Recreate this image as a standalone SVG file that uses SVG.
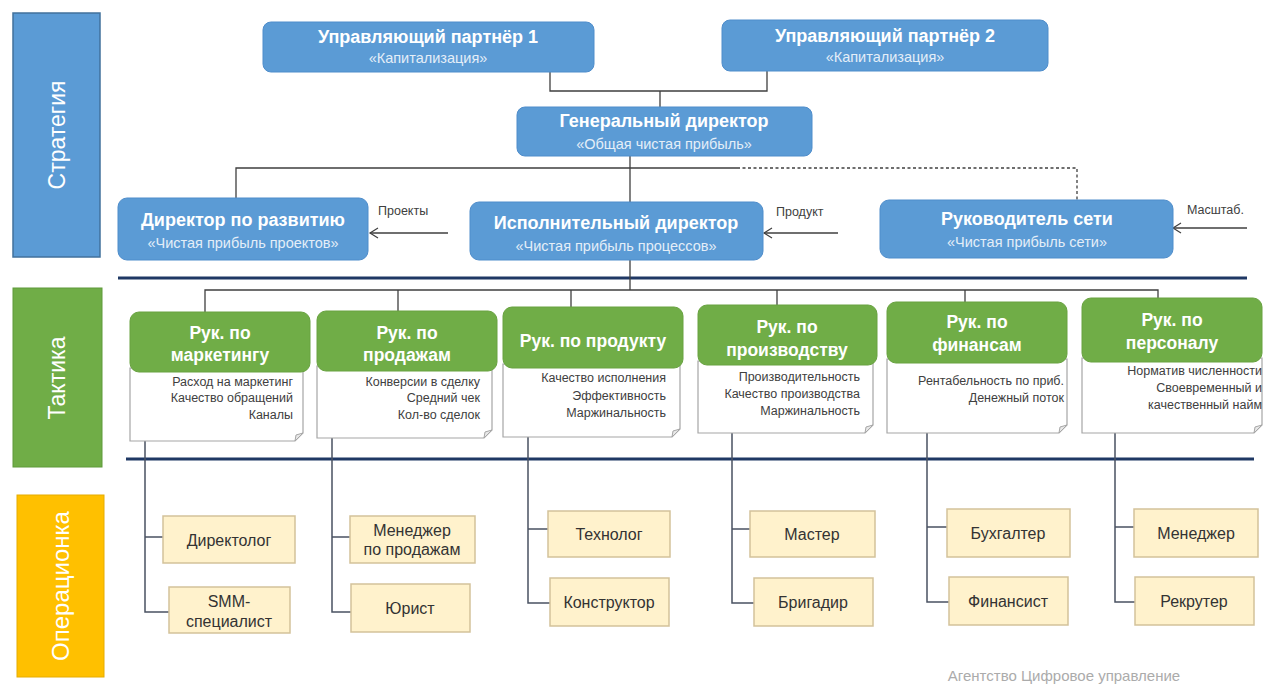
<svg xmlns="http://www.w3.org/2000/svg" width="1264" height="688" viewBox="0 0 1264 688">
<defs>
<style>
.blue{fill:#5B9BD5;stroke:#4F8DCB;stroke-width:1}
.green{fill:#70AD47;stroke:#68A240;stroke-width:1}
.note{fill:#FFFFFF;stroke:#A6A6A6;stroke-width:1.2}
.fold{fill:#E8E8E8;stroke:#A6A6A6;stroke-width:1}
.ops{fill:#FFF2CC;stroke:#D3C29A;stroke-width:1.5}
.t1{font-family:"Liberation Sans",Arial,sans-serif;font-weight:bold;font-size:18px;fill:#FFFFFF;text-anchor:middle;dominant-baseline:central}
.t2{font-family:"Liberation Sans",Arial,sans-serif;font-size:14.5px;fill:#E4EEF8;text-anchor:middle;dominant-baseline:central}
.tg{font-family:"Liberation Sans",Arial,sans-serif;font-weight:bold;font-size:17.5px;fill:#FFFFFF;text-anchor:middle;dominant-baseline:central}
.tn{font-family:"Liberation Sans",Arial,sans-serif;font-size:12.5px;fill:#404040;text-anchor:end;dominant-baseline:central}
.to{font-family:"Liberation Sans",Arial,sans-serif;font-size:16px;fill:#333333;text-anchor:middle;dominant-baseline:central}
.ts{font-family:"Liberation Sans",Arial,sans-serif;font-size:23px;fill:#FFFFFF;text-anchor:middle;dominant-baseline:central}
.tl{font-family:"Liberation Sans",Arial,sans-serif;font-size:12.5px;fill:#404040}
.ln{fill:none;stroke:#3F3F3F;stroke-width:1.3}
.ln2{fill:none;stroke:#4A5262;stroke-width:1.5}
.sep{stroke:#1F3864;stroke-width:3}
</style>
<marker id="arr" markerWidth="12" markerHeight="12" refX="9" refY="6" orient="auto" markerUnits="userSpaceOnUse">
<path d="M1,1 L9,6 L1,11" fill="none" stroke="#3F3F3F" stroke-width="1.2"/>
</marker>
</defs>
<rect width="1264" height="688" fill="#FFFFFF"/>

<!-- side labels -->
<g id="side-strategy"><rect x="13" y="13" width="87" height="244" fill="#5B9BD5" stroke="#41719C" stroke-width="1.5"/><text class="ts" transform="translate(57,135) rotate(-90)">Стратегия</text></g>
<g id="side-tactic"><rect x="13" y="288" width="89" height="179" fill="#70AD47" stroke="#5E9A3A" stroke-width="1"/><text class="ts" transform="translate(57,378) rotate(-90)">Тактика</text></g>
<g id="side-ops"><rect x="17" y="495" width="87" height="182" fill="#FFC000" stroke="#E6AC00" stroke-width="1"/><text class="ts" style="font-size:24px" transform="translate(60,586) rotate(-90)">Операционка</text></g>

<!-- separators -->
<line class="sep" x1="118" y1="278" x2="1247" y2="278"/>
<line class="sep" x1="126" y1="459" x2="1254" y2="459"/>

<!-- connectors -->
<g id="connectors">
<path class="ln" d="M550,72 V91 H767 V71 M660,91 V107"/>
<path class="ln" d="M630,156 V202 M236,198 V168 H737"/>
<path class="ln" d="M737,168 H1077 V200" stroke-dasharray="3,2.5"/>
<path class="ln" d="M448,233 H370" marker-end="url(#arr)"/>
<path class="ln" d="M838,233 H764" marker-end="url(#arr)"/>
<path class="ln" d="M1247,228 H1173" marker-end="url(#arr)"/>
<path class="ln" d="M630,260 V290 M205,312 V290 H1158 V298 M398,290 V312 M571,290 V307 M777,290 V305 M965,290 V302"/>
<path class="ln2" d="M145,441 V612 H169 M145,537 H163"/>
<path class="ln2" d="M332,438 V612 H351 M332,537 H350"/>
<path class="ln2" d="M528,437 V603 H550 M528,529 H548"/>
<path class="ln2" d="M732,433 V603 H754 M732,529 H750"/>
<path class="ln2" d="M927,433 V602 H949 M927,527 H947"/>
<path class="ln2" d="M1115,433 V602 H1135 M1115,527 H1134"/>
</g>

<!-- strategy nodes -->
<g id="partner1"><rect class="blue" x="263" y="22" width="331" height="50" rx="8"/><text class="t1" x="428" y="37">Управляющий партнёр 1</text><text class="t2" x="428" y="58">«Капитализация»</text></g>
<g id="partner2"><rect class="blue" x="722" y="20" width="326" height="51" rx="8"/><text class="t1" x="885" y="36">Управляющий партнёр 2</text><text class="t2" x="885" y="57">«Капитализация»</text></g>
<g id="gd"><rect class="blue" x="517" y="107" width="295" height="49" rx="8"/><text class="t1" x="664" y="121">Генеральный директор</text><text class="t2" x="664" y="144">«Общая чистая прибыль»</text></g>
<g id="dev"><rect class="blue" x="118" y="198" width="250" height="62" rx="9"/><text class="t1" x="243" y="220">Директор по развитию</text><text class="t2" x="243" y="243">«Чистая прибыль проектов»</text></g>
<g id="exec"><rect class="blue" x="470" y="202" width="293" height="58" rx="9"/><text class="t1" x="616" y="223">Исполнительный директор</text><text class="t2" x="616" y="246">«Чистая прибыль процессов»</text></g>
<g id="net"><rect class="blue" x="880" y="200" width="293" height="58" rx="9"/><text class="t1" x="1027" y="219">Руководитель сети</text><text class="t2" x="1027" y="242">«Чистая прибыль сети»</text></g>
<g id="labels"><text class="tl" x="378" y="215">Проекты</text><text class="tl" x="776" y="216">Продукт</text><text class="tl" x="1187" y="214">Масштаб.</text></g>

<!-- tactic nodes -->
<g id="marketing">
<path class="note" d="M130,368 H303 V433 L295,441 H130 Z"/><path class="fold" d="M303,433 L296,435 L295,441 Z"/>
<rect class="green" x="130" y="312" width="180" height="60" rx="9"/>
<text class="tg" x="220" y="333">Рук. по</text><text class="tg" x="220" y="355">маркетингу</text>
<text class="tn" x="293" y="382">Расход на маркетинг</text><text class="tn" x="293" y="398">Качество обращений</text><text class="tn" x="293" y="415">Каналы</text>
</g>
<g id="sales">
<path class="note" d="M317,366 H492 V430 L484,438 H317 Z"/><path class="fold" d="M492,430 L485,432 L484,438 Z"/>
<rect class="green" x="317" y="311" width="180" height="60" rx="9"/>
<text class="tg" x="407" y="333">Рук. по</text><text class="tg" x="407" y="355">продажам</text>
<text class="tn" x="480" y="382">Конверсии в сделку</text><text class="tn" x="480" y="398">Средний чек</text><text class="tn" x="480" y="415">Кол-во сделок</text>
</g>
<g id="product">
<path class="note" d="M503,364 H680 V429 L672,437 H503 Z"/><path class="fold" d="M680,429 L673,431 L672,437 Z"/>
<rect class="green" x="503" y="307" width="180" height="61" rx="9"/>
<text class="tg" x="593" y="341">Рук. по продукту</text>
<text class="tn" x="666" y="378">Качество исполнения</text><text class="tn" x="666" y="396">Эффективность</text><text class="tn" x="666" y="413">Маржинальность</text>
</g>
<g id="production">
<path class="note" d="M698,361 H873 V425 L865,433 H698 Z"/><path class="fold" d="M873,425 L866,427 L865,433 Z"/>
<rect class="green" x="698" y="305" width="179" height="60" rx="9"/>
<text class="tg" x="787" y="327">Рук. по</text><text class="tg" x="787" y="350">производству</text>
<text class="tn" x="860" y="377">Производительность</text><text class="tn" x="860" y="394">Качество производства</text><text class="tn" x="860" y="411">Маржинальность</text>
</g>
<g id="finance">
<path class="note" d="M887,359 H1067 V425 L1059,433 H887 Z"/><path class="fold" d="M1067,425 L1060,427 L1059,433 Z"/>
<rect class="green" x="887" y="302" width="180" height="61" rx="9"/>
<text class="tg" x="977" y="322">Рук. по</text><text class="tg" x="977" y="345">финансам</text>
<text class="tn" x="1064" y="381">Рентабельность по приб.</text><text class="tn" x="1064" y="398">Денежный поток</text>
</g>
<g id="personnel">
<path class="note" d="M1082,358 H1262 V425 L1254,433 H1082 Z"/><path class="fold" d="M1262,425 L1255,427 L1254,433 Z"/>
<rect class="green" x="1082" y="298" width="180" height="64" rx="9"/>
<text class="tg" x="1172" y="320">Рук. по</text><text class="tg" x="1172" y="343">персоналу</text>
<text class="tn" x="1262" y="371">Норматив численности</text><text class="tn" x="1262" y="388">Своевременный и</text><text class="tn" x="1262" y="405">качественный найм</text>
</g>

<!-- operational nodes -->
<g id="op-direktolog"><rect class="ops" x="163" y="516" width="132" height="47"/><text class="to" x="229" y="540">Директолог</text></g>
<g id="op-smm"><rect class="ops" x="169" y="587" width="121" height="46"/><text class="to" x="229" y="601">SMM-</text><text class="to" x="229" y="621">специалист</text></g>
<g id="op-manager-sales"><rect class="ops" x="350" y="516" width="125" height="47"/><text class="to" x="412" y="530">Менеджер</text><text class="to" x="412" y="549">по продажам</text></g>
<g id="op-lawyer"><rect class="ops" x="351" y="584" width="119" height="48"/><text class="to" x="410" y="608">Юрист</text></g>
<g id="op-technolog"><rect class="ops" x="548" y="511" width="122" height="46"/><text class="to" x="609" y="534">Технолог</text></g>
<g id="op-constructor"><rect class="ops" x="550" y="578" width="119" height="48"/><text class="to" x="609" y="602">Конструктор</text></g>
<g id="op-master"><rect class="ops" x="750" y="511" width="125" height="46"/><text class="to" x="812" y="534">Мастер</text></g>
<g id="op-brigadir"><rect class="ops" x="754" y="578" width="119" height="48"/><text class="to" x="813" y="602">Бригадир</text></g>
<g id="op-accountant"><rect class="ops" x="947" y="509" width="123" height="48"/><text class="to" x="1008" y="533">Бухгалтер</text></g>
<g id="op-financier"><rect class="ops" x="949" y="577" width="119" height="48"/><text class="to" x="1008" y="601">Финансист</text></g>
<g id="op-manager"><rect class="ops" x="1134" y="509" width="124" height="48"/><text class="to" x="1196" y="533">Менеджер</text></g>
<g id="op-recruiter"><rect class="ops" x="1135" y="577" width="119" height="48"/><text class="to" x="1194" y="601">Рекрутер</text></g>

<text x="1064" y="681" font-family="'Liberation Sans',Arial,sans-serif" font-size="15px" fill="#ABABAB" text-anchor="middle">Агентство  Цифровое управление</text>
</svg>
